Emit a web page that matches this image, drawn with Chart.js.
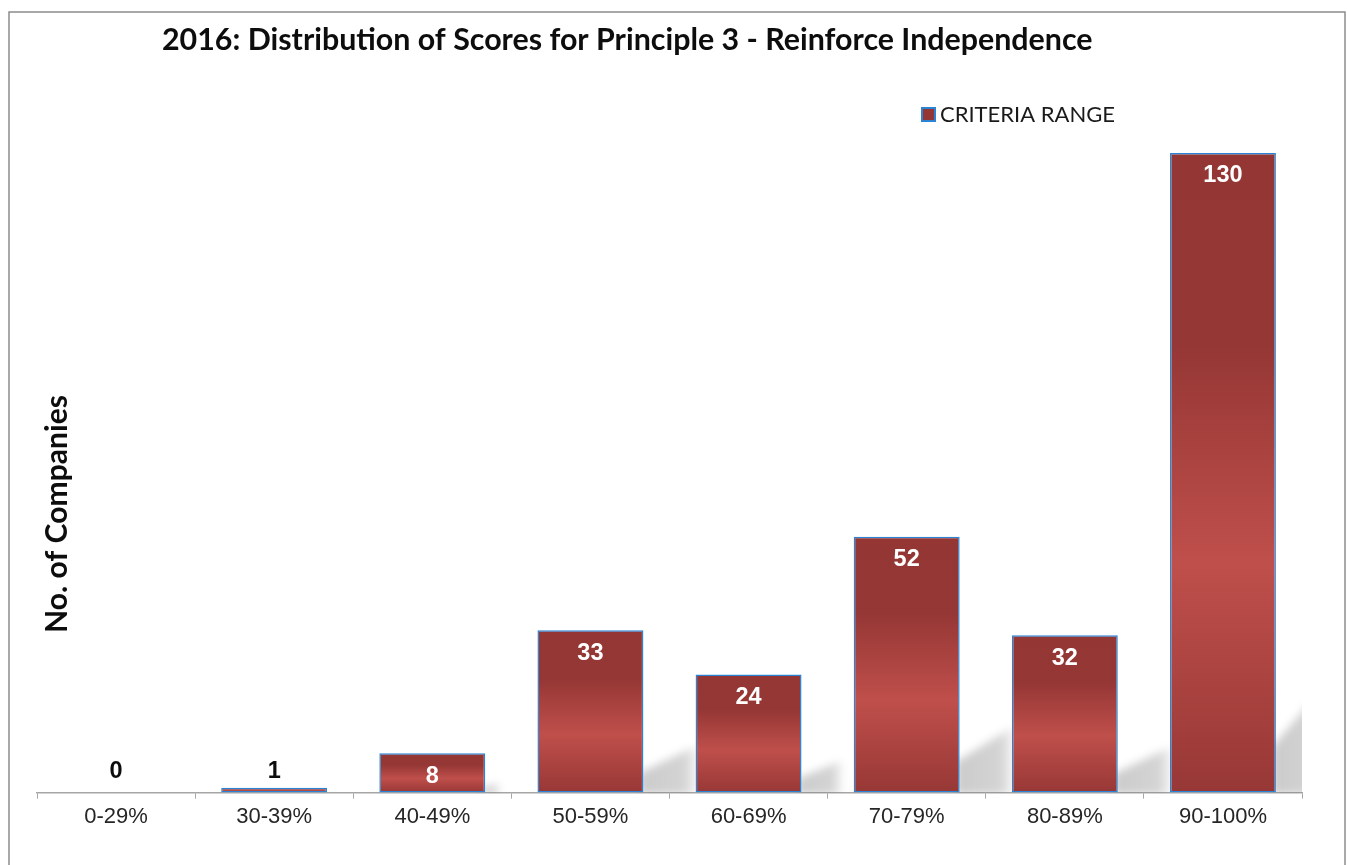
<!DOCTYPE html>
<html>
<head>
<meta charset="utf-8">
<script src="https://cdn.jsdelivr.net/npm/chart.js@4.4.1/dist/chart.umd.min.js"></script>
<style>
  html, body { margin: 0; padding: 0; background: #fff; }
</style>
</head>
<body>
<canvas id="scoreChart" width="1347" height="865"></canvas>
<script>
const chartTitle = '2016: Distribution of Scores for Principle 3 - Reinforce Independence';
const yAxisTitle = 'No. of Companies';
const seriesName = 'CRITERIA RANGE';
const scoreRanges = ['0-29%', '30-39%', '40-49%', '50-59%', '60-69%', '70-79%', '80-89%', '90-100%'];
const companyCounts = [0, 1, 8, 33, 24, 52, 32, 130];
const yMax = 130;

const darkRed = '#943634';
const lightRed = '#bf4f4b';
const barEdge = '#2d83d3';
const headFont = 'Lato, "Open Sans", sans-serif';
const bodyFont = 'Arial, "Liberation Sans", sans-serif';

// font size that makes text span the given width
function fitSize(ctx, text, weight, family, width) {
    ctx.font = weight + ' 100px ' + family;
    return 100 * width / ctx.measureText(text).width;
}

// vertical gradient for each bar, dark top, lighter lower middle
function barFill(context) {
    const chart = context.chart;
    const y = chart.scales.y;
    if (!y || context.type !== 'data') return darkRed;
    const top = y.getPixelForValue(context.raw);
    const base = y.getPixelForValue(0);
    if (!(base - top > 1)) return darkRed;
    const g = chart.ctx.createLinearGradient(0, top, 0, base);
    g.addColorStop(0, darkRed);
    g.addColorStop(0.3, '#953735');
    g.addColorStop(0.64, lightRed);
    g.addColorStop(1, '#973836');
    return g;
}

const decorations = {
    id: 'decorations',
    beforeDraw(chart) {
        const ctx = chart.ctx;
        ctx.save();
        ctx.strokeStyle = '#8c8c8c';
        ctx.lineWidth = 1.5;
        ctx.strokeRect(9, 12, 1336, 900);
        ctx.restore();
    },
    beforeDatasetsDraw(chart) {
        // soft floor shadows behind the bars
        const ctx = chart.ctx;
        const area = chart.chartArea;
        const meta = chart.getDatasetMeta(0);
        ctx.save();
        ctx.beginPath();
        ctx.rect(area.left, area.top, area.right - area.left, area.bottom - area.top);
        ctx.clip();
        ctx.filter = 'blur(4px)';
        meta.data.forEach(bar => {
            const h = bar.base - bar.y;
            if (h < 20) return;
            const right = bar.x + bar.width / 2;
            const len = Math.min(h * 0.35, 55);
            const lift = Math.min(h * 0.12, 45);
            const slope = 0.25 + h * 0.0016;
            const g = ctx.createLinearGradient(right, 0, right + len, 0);
            g.addColorStop(0, 'rgba(0,0,0,0.2)');
            g.addColorStop(0.75, 'rgba(0,0,0,0.17)');
            g.addColorStop(1, 'rgba(0,0,0,0.02)');
            ctx.fillStyle = g;
            ctx.beginPath();
            ctx.moveTo(right - 4, bar.base + 2);
            ctx.lineTo(right - 4, bar.base - lift);
            ctx.lineTo(right + len, bar.base - lift - len * slope);
            ctx.lineTo(right + len, bar.base + 2);
            ctx.closePath();
            ctx.fill();
        });
        ctx.restore();
    },
    afterDatasetsDraw(chart) {
        const ctx = chart.ctx;
        const meta = chart.getDatasetMeta(0);
        ctx.save();

        // value labels
        ctx.font = 'bold 23.5px ' + bodyFont;
        ctx.textAlign = 'center';
        ctx.textBaseline = 'middle';
        meta.data.forEach((bar, i) => {
            const h = bar.base - bar.y;
            if (h > 34) {
                ctx.fillStyle = '#ffffff';
                ctx.fillText(String(companyCounts[i]), bar.x, bar.y + 23);
            } else {
                ctx.fillStyle = '#0d0d0d';
                ctx.fillText(String(companyCounts[i]), bar.x, Math.min(bar.y - 16, bar.base - 21));
            }
        });

        // title
        let size = fitSize(ctx, chartTitle, 'bold', headFont, 931);
        ctx.font = 'bold ' + size + 'px ' + headFont;
        ctx.fillStyle = '#0d0d0d';
        ctx.textAlign = 'left';
        ctx.textBaseline = 'alphabetic';
        ctx.fillText(chartTitle, 162, 50);

        // legend
        ctx.fillStyle = darkRed;
        ctx.fillRect(922, 108, 13, 13);
        ctx.strokeStyle = barEdge;
        ctx.lineWidth = 2;
        ctx.strokeRect(922, 108, 13, 13);
        size = fitSize(ctx, seriesName, 'normal', headFont, 175);
        ctx.font = 'normal ' + size + 'px ' + headFont;
        ctx.fillStyle = '#1a1a1a';
        ctx.fillText(seriesName, 940, 122);

        // y axis title, drawn inside the plot like the original
        size = fitSize(ctx, yAxisTitle, 'bold', headFont, 238);
        ctx.font = 'bold ' + size + 'px ' + headFont;
        ctx.fillStyle = '#0d0d0d';
        ctx.translate(67, 633);
        ctx.rotate(-Math.PI / 2);
        ctx.fillText(yAxisTitle, 0, 0);
        ctx.restore();
    }
};

const ctx = document.getElementById('scoreChart').getContext('2d');
const scoreChart = new Chart(ctx, {
    type: 'bar',
    data: {
        labels: scoreRanges,
        datasets: [{
            label: seriesName,
            data: companyCounts,
            backgroundColor: barFill,
            borderColor: barEdge,
            borderWidth: 1.5,
            borderSkipped: false,
            categoryPercentage: 1,
            barPercentage: 0.67
        }]
    },
    options: {
        responsive: false,
        animation: false,
        layout: { padding: { left: 37, right: 45, top: 153, bottom: 30 } },
        plugins: {
            legend: { display: false },
            title: { display: false },
            tooltip: { enabled: false }
        },
        scales: {
            x: {
                grid: {
                    display: true,
                    drawOnChartArea: false,
                    drawTicks: true,
                    tickLength: 6,
                    color: '#a6a6a6',
                    offset: true
                },
                border: { display: true, color: '#a6a6a6', width: 1.5 },
                ticks: {
                    color: '#262626',
                    padding: 5,
                    font: { family: bodyFont, size: 22 }
                }
            },
            y: {
                display: false,
                min: 0,
                max: yMax
            }
        }
    },
    plugins: [decorations]
});
</script>
</body>
</html>
